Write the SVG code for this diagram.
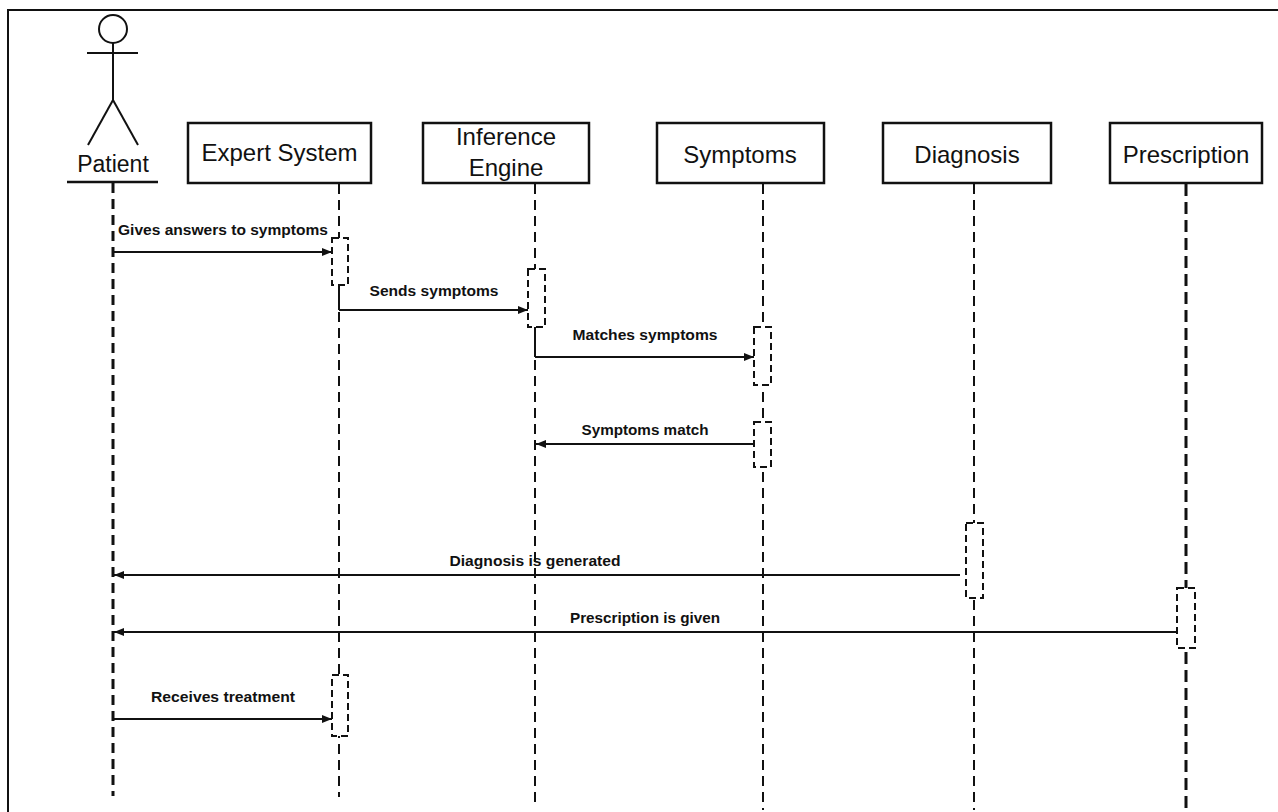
<svg xmlns="http://www.w3.org/2000/svg" width="1278" height="812" viewBox="0 0 1278 812">
<defs>
<style>
.frame{stroke:#111;stroke-width:2;fill:none}
.box{fill:#fff;stroke:#111;stroke-width:2.5}
.hdr{font-family:"Liberation Sans",Arial,sans-serif;font-size:24px;fill:#111;text-anchor:middle}
.life{stroke:#111;stroke-width:2;stroke-dasharray:10 6;fill:none}
.lifeB{stroke:#111;stroke-width:3;stroke-dasharray:10 6;fill:none}
.act{fill:#fff;stroke:#111;stroke-width:2;stroke-dasharray:7 4}
.msg{stroke:#111;stroke-width:2.2;fill:none}
.lbl{font-family:"Liberation Sans",Arial,sans-serif;font-size:15px;font-weight:bold;fill:#111;text-anchor:middle}
.seg{stroke:#111;stroke-width:2;fill:none}
</style>
<marker id="ah" viewBox="0 0 10 8" refX="10" refY="4" markerWidth="10" markerHeight="8" markerUnits="userSpaceOnUse" orient="auto">
<path d="M0,0 L10,4 L0,8 Z" fill="#111"/>
</marker>
</defs>
<rect width="1278" height="812" fill="#fff"/>
<path class="frame" d="M8,812 V10 H1278"/>

<g id="lifelines">
<line class="lifeB" x1="113" y1="183" x2="113" y2="796"/>
<line class="life" x1="339" y1="184" x2="339" y2="797"/>
<line class="life" x1="535" y1="184" x2="535" y2="803"/>
<line class="life" x1="763" y1="184" x2="763" y2="810"/>
<line class="life" x1="974" y1="184" x2="974" y2="810"/>
<line class="lifeB" x1="1186" y1="184" x2="1186" y2="808" style="stroke-dasharray:12 6"/>
</g>

<g id="patient">
<circle cx="113" cy="29" r="14" fill="#fff" stroke="#111" stroke-width="2"/>
<line class="seg" x1="113" y1="43" x2="113" y2="100"/>
<line class="seg" x1="87" y1="53" x2="138" y2="53"/>
<line class="seg" x1="113" y1="100" x2="88" y2="145"/>
<line class="seg" x1="113" y1="100" x2="138" y2="145"/>
<text class="hdr" x="113" y="172" style="font-size:23px">Patient</text>
<line x1="67" y1="182" x2="158" y2="182" stroke="#111" stroke-width="2.5"/>
</g>

<g id="expert-system">
<rect class="box" x="188" y="123" width="183" height="60"/>
<text class="hdr" x="279.5" y="161">Expert System</text>
</g>

<g id="inference-engine">
<rect class="box" x="423" y="123" width="166" height="60"/>
<text class="hdr" x="506" y="145">Inference</text>
<text class="hdr" x="506" y="176">Engine</text>
</g>

<g id="symptoms">
<rect class="box" x="657" y="123" width="167" height="60"/>
<text class="hdr" x="740" y="163">Symptoms</text>
</g>

<g id="diagnosis">
<rect class="box" x="883" y="123" width="168" height="60"/>
<text class="hdr" x="967" y="163">Diagnosis</text>
</g>

<g id="prescription">
<rect class="box" x="1110" y="123" width="152" height="60"/>
<text class="hdr" x="1186" y="163">Prescription</text>
</g>

<g id="activations">
<rect class="act" x="332" y="238" width="16" height="47"/>
<rect class="act" x="528" y="269" width="17" height="58"/>
<rect class="act" x="754" y="327" width="17" height="58"/>
<rect class="act" x="754" y="422" width="17" height="45"/>
<rect class="act" x="966" y="523" width="17" height="75"/>
<rect class="act" x="1177" y="588" width="18" height="60"/>
<rect class="act" x="332" y="675" width="16" height="61"/>
</g>

<g id="connectors">
<line class="seg" x1="339" y1="285" x2="339" y2="310"/>
<line class="seg" x1="535" y1="327" x2="535" y2="357"/>
<line class="msg" x1="113" y1="252" x2="332" y2="252" marker-end="url(#ah)"/>
<line class="msg" x1="339" y1="310" x2="528" y2="310" marker-end="url(#ah)"/>
<line class="msg" x1="535" y1="357" x2="754" y2="357" marker-end="url(#ah)"/>
<line class="msg" x1="754" y1="444" x2="536" y2="444" marker-end="url(#ah)"/>
<line class="msg" x1="960" y1="575" x2="114" y2="575" marker-end="url(#ah)"/>
<line class="msg" x1="1177" y1="632" x2="114" y2="632" marker-end="url(#ah)"/>
<line class="msg" x1="113" y1="719" x2="332" y2="719" marker-end="url(#ah)"/>
</g>

<g id="labels">
<text class="lbl" x="223" y="235" textLength="210" lengthAdjust="spacingAndGlyphs">Gives answers to symptoms</text>
<text class="lbl" x="434" y="296" textLength="129" lengthAdjust="spacingAndGlyphs">Sends symptoms</text>
<text class="lbl" x="645" y="340" textLength="145" lengthAdjust="spacingAndGlyphs">Matches symptoms</text>
<text class="lbl" x="645" y="435" textLength="127" lengthAdjust="spacingAndGlyphs">Symptoms match</text>
<text class="lbl" x="535" y="566" textLength="171" lengthAdjust="spacingAndGlyphs">Diagnosis is generated</text>
<text class="lbl" x="645" y="623" textLength="150" lengthAdjust="spacingAndGlyphs">Prescription is given</text>
<text class="lbl" x="223" y="702" textLength="144" lengthAdjust="spacingAndGlyphs">Receives treatment</text>
</g>
</svg>
